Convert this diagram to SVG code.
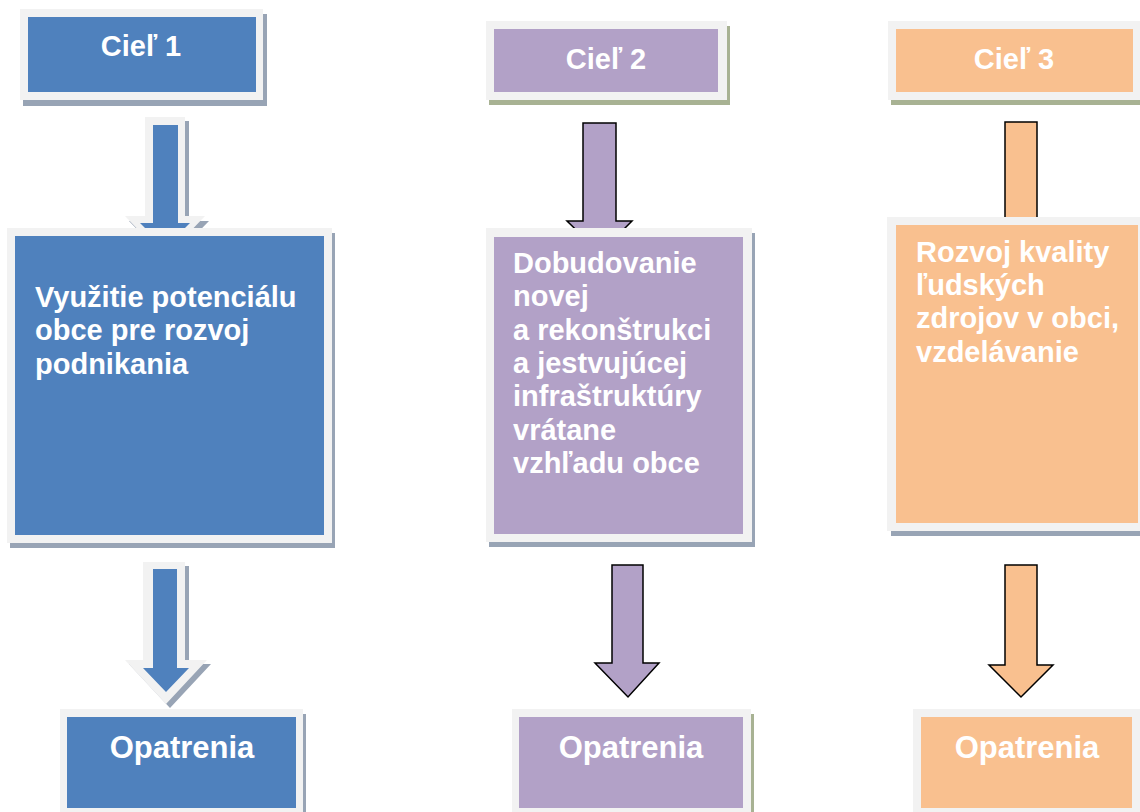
<svg xmlns="http://www.w3.org/2000/svg" width="1140" height="812" viewBox="0 0 1140 812">
<style>
.frame{fill:#f2f2f2}
.sh{fill:#98a4b5}
.shg{fill:#a8b293}
.blue{fill:#4f81bd}
.purple{fill:#b2a1c7}
.orange{fill:#f9c08f}
.arr{stroke:#000;stroke-width:1.5;stroke-linejoin:miter}
.t{font-family:"Liberation Sans",Arial,sans-serif;font-weight:bold;fill:#fff}
.title{font-size:29px;text-anchor:middle}
.body{font-size:29px}
.op{font-size:31px;text-anchor:middle}
</style>
<rect width="1140" height="812" fill="#fff"/>
<g id="connectors">
  <!-- column 1 top arrow -->
  <polygon class="sh" points="149,121 189,121 189,221 209,221 169,262 129,221 149,221"/>
  <polygon class="frame" points="145,117 185,117 185,216 205,216 165,258 125,216 145,216"/>
  <polygon class="blue" points="153,125 178,125 178,223 190,223 165,248 140,223 153,223"/>
  <!-- column 1 bottom arrow -->
  <polygon class="sh" points="147,566 189,566 189,664 211,664 170,708 129,664 147,664"/>
  <polygon class="frame" points="143,562 185,562 185,660 207,660 166,704 125,660 143,660"/>
  <polygon class="blue" points="153,569 177,569 177,668 189,668 166,692 143,668 153,668"/>
  <!-- column 2 arrows -->
  <polygon class="purple arr" points="583,123 616,123 616,221 632,221 600,253 567,221 583,221"/>
  <polygon class="purple arr" points="612,565 643,565 643,663 659,663 628,697 595,663 612,663"/>
  <!-- column 3 arrows -->
  <polygon class="orange arr" points="1005,122 1037,122 1037,225 1053,225 1021,258 989,225 1005,225"/>
  <polygon class="orange arr" points="1005,565 1037,565 1037,665 1053,665 1021,697 989,665 1005,665"/>
</g>
<g id="ciel1">
  <rect class="sh" x="23" y="14" width="244" height="92"/>
  <rect class="frame" x="20" y="9" width="243" height="91"/>
  <rect class="blue" x="28" y="17" width="228" height="75"/>
  <text class="t title" x="141" y="56">Cieľ 1</text>
</g>
<g id="box1">
  <rect class="sh" x="10" y="233" width="325" height="315"/>
  <rect class="frame" x="7" y="228" width="325" height="315"/>
  <rect class="blue" x="15" y="236" width="309" height="299"/>
  <text class="t body" x="35" y="307">Využitie potenciálu</text>
  <text class="t body" x="35" y="340">obce pre rozvoj</text>
  <text class="t body" x="35" y="374">podnikania</text>
</g>
<g id="opatrenia1">
  <rect class="sh" x="63" y="714" width="243" height="100"/>
  <rect class="frame" x="60" y="709" width="243" height="105"/>
  <rect class="blue" x="67" y="717" width="229" height="91"/>
  <text class="t op" x="182" y="758">Opatrenia</text>
</g>
<g id="ciel2">
  <rect class="shg" x="489" y="26" width="241" height="79"/>
  <rect class="frame" x="486" y="21" width="241" height="79"/>
  <rect class="purple" x="494" y="29" width="224" height="63"/>
  <text class="t title" x="606" y="69">Cieľ 2</text>
</g>
<g id="box2">
  <rect class="sh" x="489" y="233" width="266" height="314"/>
  <rect class="frame" x="486" y="228" width="266" height="314"/>
  <rect class="purple" x="494" y="237" width="249" height="297"/>
  <text class="t body" x="513" y="273">Dobudovanie</text>
  <text class="t body" x="513" y="306">novej</text>
  <text class="t body" x="513" y="340">a rekonštrukci</text>
  <text class="t body" x="513" y="373">a jestvujúcej</text>
  <text class="t body" x="513" y="406">infraštruktúry</text>
  <text class="t body" x="513" y="440">vrátane</text>
  <text class="t body" x="513" y="473">vzhľadu obce</text>
</g>
<g id="opatrenia2">
  <rect class="shg" x="515" y="714" width="239" height="100"/>
  <rect class="frame" x="512" y="709" width="239" height="105"/>
  <rect class="purple" x="519" y="717" width="224" height="91"/>
  <text class="t op" x="631" y="758">Opatrenia</text>
</g>
<g id="ciel3">
  <rect class="shg" x="891" y="26" width="260" height="79"/>
  <rect class="frame" x="888" y="21" width="260" height="79"/>
  <rect class="orange" x="896" y="29" width="237" height="63"/>
  <text class="t title" x="1014" y="69">Cieľ 3</text>
</g>
<g id="box3">
  <rect class="sh" x="891" y="222" width="260" height="314"/>
  <rect class="frame" x="887" y="217" width="260" height="314"/>
  <rect class="orange" x="896" y="225" width="242" height="298"/>
  <text class="t body" x="916" y="262">Rozvoj kvality</text>
  <text class="t body" x="916" y="295">ľudských</text>
  <text class="t body" x="916" y="328">zdrojov v obci,</text>
  <text class="t body" x="916" y="362">vzdelávanie</text>
</g>
<g id="opatrenia3">
  <rect class="frame" x="913" y="709" width="235" height="105"/>
  <rect class="orange" x="921" y="717" width="211" height="91"/>
  <text class="t op" x="1027" y="758">Opatrenia</text>
</g>
</svg>
